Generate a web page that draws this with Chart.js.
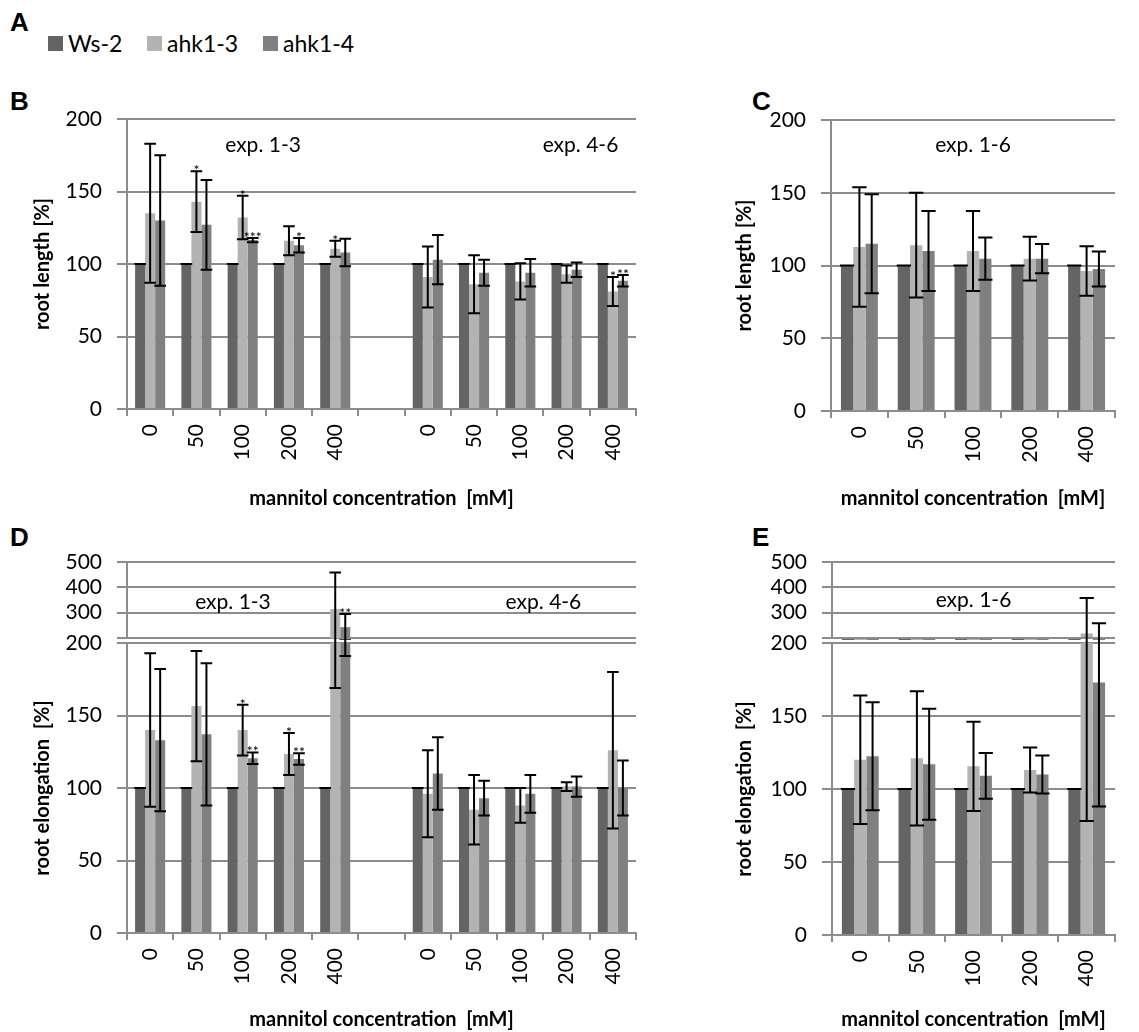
<!DOCTYPE html>
<html><head><meta charset="utf-8">
<script src="https://cdn.jsdelivr.net/npm/chart.js@4.4.1/dist/chart.umd.min.js"></script>
<style>
html,body{margin:0;padding:0;background:#fff}
body{width:1139px;height:1032px;position:relative;overflow:hidden;font-family:Lato,'Open Sans',sans-serif}
canvas{position:absolute}
.letter{position:absolute;font:bold 26px 'Liberation Sans',Arial,sans-serif;line-height:26px;color:#000}
.leg{position:absolute;top:31px;height:24px;display:flex;align-items:center;font:23px Lato,sans-serif;color:#000}
.leg i{display:inline-block;width:15px;height:15px;margin-right:5px}
</style></head>
<body>
<div class="letter" style="left:10px;top:9px">A</div>
<div class="letter" style="left:10px;top:88px">B</div>
<div class="letter" style="left:752px;top:88px">C</div>
<div class="letter" style="left:10px;top:524px">D</div>
<div class="letter" style="left:752px;top:524px">E</div>
<div id="legend"></div>

<canvas id="cB" width="660" height="420" style="left:0;top:95px"></canvas>
<canvas id="cC" width="439" height="420" style="left:700px;top:95px"></canvas>
<canvas id="cDu" width="660" height="110" style="left:0;top:530px"></canvas>
<canvas id="cDl" width="660" height="432" style="left:0;top:600px"></canvas>
<canvas id="cEu" width="439" height="110" style="left:700px;top:530px"></canvas>
<canvas id="cEl" width="439" height="432" style="left:700px;top:600px"></canvas>

<script>
// ---------------- DATA ----------------
const seriesNames = ['Ws-2', 'ahk1-3', 'ahk1-4'];
const catsSplit = ['0', '50', '100', '200', '400', '', '0', '50', '100', '200', '400'];
const catsAll = ['0', '50', '100', '200', '400'];

// Panel B: root length [%], exp. 1-3 | exp. 4-6
const B_ws2    = [100, 100, 100, 100, 100, null, 100, 100, 100, 100, 100];
const B_ahk13  = [135, 143, 132, 116, 110.5, null, 91, 86, 88, 93, 81];
const B_ahk14  = [130, 127, 116.5, 113, 108, null, 103, 94, 94, 96, 88.5];
const B_err13  = [48, 21, 15, 10, 5.5, null, 21, 20, 12.5, 6, 10];
const B_err14  = [45, 31, 1.5, 5, 9.5, null, 17, 9, 9.5, 5, 4];
const B_star13 = ['', '*', '*', '', '*', null, '', '', '', '', '*'];
const B_star14 = ['', '', '***', '*', '', null, '', '', '', '', '**'];

// Panel C: root length [%], exp. 1-6
const C_ws2   = [100, 100, 100, 100, 100];
const C_ahk13 = [112.7, 114, 110, 104.7, 96.2];
const C_ahk14 = [115, 110, 104.7, 104.7, 97.6];
const C_err13 = [41, 36, 27.5, 15, 17];
const C_err14 = [34, 27.5, 14.5, 10, 12];

// Panel D: root elongation [%], exp. 1-3 | exp. 4-6
const D_ws2    = [100, 100, 100, 100, 100, null, 100, 100, 100, 100, 100];
const D_ahk13  = [140, 156.5, 140, 123.4, 314, null, 96, 85, 88, 101, 126];
const D_ahk14  = [133, 137, 120.5, 120, 243, null, 110, 93, 96, 101, 100];
const D_err13  = [53, 38, 17.5, 14.5, 145, null, 30, 24, 12, 3, 54];
const D_err14  = [49, 49, 4, 4, 52, null, 25, 12, 13, 7, 19];
const D_star13 = ['', '', '*', '*', '', null, '', '', '', '', ''];
const D_star14 = ['', '', '**', '**', '**', null, '', '', '', '', ''];

// Panel E: root elongation [%], exp. 1-6
const E_ws2   = [100, 100, 100, 100, 100];
const E_ahk13 = [120, 121, 115.5, 113, 218];
const E_ahk14 = [122.5, 117, 109, 110, 173];
const E_err13 = [44, 46, 30.5, 15.4, 140];
const E_err14 = [37, 38, 15.6, 13, 85];

const zeros11 = [0, 0, 0, 0, 0, null, 0, 0, 0, 0, 0];
const zeros5 = [0, 0, 0, 0, 0];

// ---------------- STYLE ----------------
const FONT = "Lato, 'Open Sans', sans-serif";
const COLORS = ['#646464', '#b3b3b3', '#808080'];
const GRID = '#8c8c8c';

// legend (HTML)
const legend = document.getElementById('legend');
const legX = [48, 147, 263];
seriesNames.forEach((n, i) => {
  const d = document.createElement('div');
  d.className = 'leg';
  d.style.left = legX[i] + 'px';
  d.innerHTML = '<i style="background:' + COLORS[i] + '"></i><span></span>';
  d.querySelector('span').textContent = n;
  legend.appendChild(d);
});

// error bars + stars plugin
const errPlugin = {
  id: 'errbars',
  afterDatasetsDraw(chart, args, o) {
    const {ctx, chartArea: a} = chart;
    const ys = chart.scales.y;
    ctx.save();
    ctx.beginPath();
    ctx.rect(a.left - 20, a.top - (o.extTop || 0), a.right - a.left + 40, a.bottom - a.top + (o.extTop || 0) + (o.extBottom || 0));
    ctx.clip();
    ctx.strokeStyle = '#000';
    ctx.lineWidth = 2;
    chart.data.datasets.forEach((ds, di) => {
      const e = o.errors[di];
      const st = o.stars ? o.stars[di] : null;
      const meta = chart.getDatasetMeta(di);
      meta.data.forEach((bar, i) => {
        const v = ds.data[i];
        if (v == null || e == null || e[i] == null) return;
        const hi = v + e[i], lo = v - e[i];
        const x = bar.x;
        const hw = bar.width * 0.58;
        const yT = ys.getPixelForValue(hi);
        const yB = ys.getPixelForValue(lo);
        // whole error bar outside this axis range -> drawn by the other part of the broken axis
        const visible = !(hi < ys.min || lo > ys.max);
        if (visible) {
          ctx.beginPath();
          ctx.moveTo(x, yT); ctx.lineTo(x, yB);
          ctx.moveTo(x - hw, yT); ctx.lineTo(x + hw, yT);
          ctx.moveTo(x - hw, yB); ctx.lineTo(x + hw, yB);
          ctx.stroke();
        }
        if (st && st[i] && hi >= ys.min && hi <= ys.max) {
          ctx.fillStyle = '#000';
          ctx.font = '14px ' + FONT;
          ctx.textAlign = 'center';
          ctx.textBaseline = 'alphabetic';
          ctx.fillText(st[i], x, yT + 4);
        }
      });
    });
    ctx.restore();
  }
};

// text notes plugin (positions in data units)
const notePlugin = {
  id: 'notes',
  afterDatasetsDraw(chart, args, o) {
    if (!o.items) return;
    const {ctx} = chart;
    ctx.save();
    ctx.fillStyle = '#000';
    ctx.font = '21px ' + FONT;
    ctx.textAlign = 'center';
    ctx.textBaseline = 'middle';
    o.items.forEach(it => {
      ctx.fillText(it.text, chart.scales.x.getPixelForValue(it.x), chart.scales.y.getPixelForValue(it.y));
    });
    ctx.restore();
  }
};

function make(id, c) {
  const datasets = c.series.map((d, i) => {
    const ds = {label: seriesNames[i], data: d, backgroundColor: COLORS[i], borderWidth: 0,
      categoryPercentage: 0.65, barPercentage: 1};
    if (c.base !== undefined) ds.base = c.base;
    if (c.clip !== undefined) ds.clip = c.clip;
    return ds;
  });
  return new Chart(document.getElementById(id), {
    type: 'bar',
    data: {labels: c.labels, datasets},
    options: {
      responsive: false, animation: false, devicePixelRatio: 1,
      layout: {padding: c.pad, autoPadding: false},
      plugins: {
        legend: {display: false}, tooltip: {enabled: false},
        errbars: {errors: c.errors, stars: c.stars, extTop: c.extTop, extBottom: c.extBottom},
        notes: {items: c.notes}
      },
      scales: {
        x: {
          display: c.showX,
          grid: {offset: true, drawOnChartArea: false, color: GRID, lineWidth: 2, tickLength: 7},
          border: {color: GRID, width: 2},
          ticks: {color: '#000', font: {family: FONT, size: 21}, minRotation: 90, maxRotation: 90, padding: 8, autoSkip: false},
          title: {display: !!c.xTitle, text: c.xTitle, color: '#000', font: {family: FONT, size: 20, weight: 'bold'}, padding: {top: 0, bottom: c.xTitlePad}},
          afterFit: s => { s.height = c.xH; s.paddingLeft = 0; s.paddingRight = 0; }
        },
        y: {
          min: c.yMin, max: c.yMax,
          grid: {color: GRID, lineWidth: 2, tickLength: 10},
          border: {color: GRID, width: 2},
          ticks: {stepSize: c.step, autoSkip: false, color: '#000', font: {family: FONT, size: 21}, padding: 15,
            callback: v => (c.hideTick !== undefined && v === c.hideTick) ? '' : String(v)},
          title: {display: !!c.yTitle, text: c.yTitle, color: '#000', font: {family: FONT, size: 20, weight: 'bold'}, padding: {top: c.yTitlePad, bottom: 0}},
          afterFit: s => { s.width = c.yW; s.paddingTop = 0; s.paddingBottom = 0; }
        }
      }
    },
    plugins: [errPlugin, notePlugin]
  });
}

// Panel B
make('cB', {
  labels: catsSplit, series: [B_ws2, B_ahk13, B_ahk14], errors: [zeros11, B_err13, B_err14], stars: [null, B_star13, B_star14],
  notes: [{text: 'exp. 1-3', x: 2.44, y: 182}, {text: 'exp. 4-6', x: 9.3, y: 182}],
  yMin: 0, yMax: 200, step: 50, yTitle: 'root length [%]', yTitlePad: 31, yW: 127,
  xTitle: 'mannitol concentration  [mM]', xTitlePad: 4, xH: 106, showX: true,
  pad: {top: 24, right: 24, bottom: 0, left: 0}
});
// Panel C
make('cC', {
  labels: catsAll, series: [C_ws2, C_ahk13, C_ahk14], errors: [zeros5, C_err13, C_err14],
  notes: [{text: 'exp. 1-6', x: 2.0, y: 183}],
  yMin: 0, yMax: 200, step: 50, yTitle: 'root length [%]', yTitlePad: 33, yW: 131,
  xTitle: 'mannitol concentration  [mM]', xTitlePad: 4, xH: 104, showX: true,
  pad: {top: 25, right: 24, bottom: 0, left: 0}
});
// Panel D upper (broken axis 200-500)
make('cDu', {
  labels: catsSplit, series: [D_ws2, D_ahk13, D_ahk14], errors: [zeros11, D_err13, D_err14], stars: [null, D_star13, D_star14],
  notes: [{text: 'exp. 1-3', x: 1.79, y: 343}, {text: 'exp. 4-6', x: 8.5, y: 343}],
  yMin: 200, yMax: 500, step: 100, hideTick: 200, yW: 127, extBottom: 3, showX: false, xH: 0,
  pad: {top: 32, right: 24, bottom: 2, left: 0}
});
// Panel D lower (0-200)
make('cDl', {
  labels: catsSplit, series: [D_ws2, D_ahk13, D_ahk14], errors: [zeros11, D_err13, D_err14], stars: [null, D_star13, D_star14],
  yMin: 0, yMax: 200, step: 50, yTitle: 'root elongation  [%]', yTitlePad: 31, yW: 127, extTop: 3,
  xTitle: 'mannitol concentration  [mM]', xTitlePad: 0, xH: 99, showX: true,
  pad: {top: 43, right: 24, bottom: 0, left: 0}
});
// Panel E upper
make('cEu', {
  labels: catsAll, series: [E_ws2, E_ahk13, E_ahk14], errors: [zeros5, E_err13, E_err14],
  notes: [{text: 'exp. 1-6', x: 2.0, y: 350}],
  yMin: 200, yMax: 500, step: 100, hideTick: 200, yW: 132, extBottom: 3, showX: false, xH: 0,
  base: 200, clip: {left: 0, top: 0, right: 0, bottom: 3},
  pad: {top: 32, right: 24, bottom: 2, left: 0}
});
// Panel E lower
make('cEl', {
  labels: catsAll, series: [E_ws2, E_ahk13, E_ahk14], errors: [zeros5, E_err13, E_err14],
  yMin: 0, yMax: 200, step: 50, yTitle: 'root elongation  [%]', yTitlePad: 33, yW: 132, extTop: 3,
  xTitle: 'mannitol concentration  [mM]', xTitlePad: 0, xH: 97, showX: true,
  pad: {top: 43, right: 24, bottom: 0, left: 0}
});
</script>
</body></html>
